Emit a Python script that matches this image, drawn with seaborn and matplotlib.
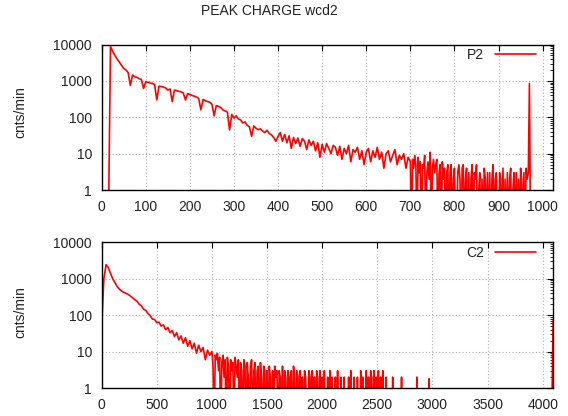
import numpy as np
import pandas as pd
import matplotlib
matplotlib.use("Agg")
import matplotlib.pyplot as plt
import seaborn as sns
from matplotlib.ticker import FixedLocator, FixedFormatter, LogLocator, NullFormatter

sns.set_style("white")
plt.rcParams["font.family"] = ["Liberation Sans", "DejaVu Sans"]

title = "PEAK CHARGE wcd2"
ylabel = "cnts/min"

# ---- P2 histogram ----
p2_label = "P2"
# bins of 5 from 0 to 695
p2_head_start, p2_head_step = 0, 5
p2_head = [
    0, 0, 0, 0, 8800, 6500, 5000, 4000, 3300, 2700,
    2200, 2000, 1700, 750, 1450, 1300, 1250, 1150, 1100, 620,
    950, 920, 880, 850, 800, 300, 720, 700, 680, 640,
    560, 600, 270, 560, 540, 520, 500, 470, 300, 450,
    420, 400, 380, 360, 330, 160, 310, 290, 270, 260,
    230, 110, 210, 200, 185, 160, 150, 140, 45, 120,
    95, 110, 90, 85, 70, 75, 60, 55, 30, 58,
    50, 46, 48, 42, 38, 44, 36, 33, 28, 22,
    30, 38, 22, 34, 20, 31, 14, 28, 19, 27,
    16, 26, 22, 13, 24, 17, 22, 12, 20, 8,
    18, 11, 19, 14, 10, 17, 15, 9, 16, 7,
    14, 10, 17, 6, 13, 11, 15, 7, 12, 5,
    11, 14, 6, 12, 8, 15, 7, 11, 4, 10,
    12, 6, 9, 13, 5, 9, 7, 10, 4, 8,
]
# bins of 2.5 from 700 to 967.5
p2_tail_start, p2_tail_step = 700, 2.5
p2_tail = [
    6, 0, 7, 4, 9, 5, 0, 8, 3, 6, 0, 5,
    4, 9, 0, 3, 6, 2, 11, 0, 4, 7, 3, 5,
    7, 0, 3, 5, 0, 6, 2, 4, 0, 3, 5, 0,
    3, 5, 0, 2, 4, 0, 0, 3, 5, 2, 0, 4,
    5, 0, 2, 4, 0, 3, 0, 2, 5, 0, 3, 2,
    5, 0, 1, 3, 0, 2, 0, 4, 2, 0, 3, 0,
    3, 0, 2, 5, 0, 2, 3, 0, 0, 3, 2, 0,
    4, 0, 2, 0, 3, 0, 2, 4, 0, 1, 3, 0,
    3, 0, 2, 0, 4, 2, 0, 3, 0, 4, 2, 3,
]
p2_peak_x = [970, 972.5]
p2_peak = [850, 0]

# ---- C2 histogram ----
c2_label = "C2"
# bins of 20 from 0 to 980
c2_head_start, c2_head_step = 0, 20
c2_head = [
    50, 1000, 2400, 2000, 1400, 1000, 780, 610, 520, 460,
    420, 395, 370, 335, 300, 265, 240, 200, 180, 145,
    135, 110, 98, 78, 76, 62, 64, 50, 54, 40,
    46, 33, 38, 26, 33, 21, 27, 17, 24, 14,
    20, 12, 17, 9, 15, 10, 13, 6, 11, 8,
]
# bins of 10 from 1000 to 2990
c2_tail_start, c2_tail_step = 1000, 10
c2_tail = [
    10, 4, 0, 8, 6, 9, 3, 7, 0, 5,
    8, 2, 6, 0, 7, 4, 0, 6, 3, 5,
    0, 7, 4, 2, 6, 0, 5, 3, 0, 6,
    4, 0, 5, 2, 0, 4, 6, 0, 3, 5,
    0, 3, 4, 0, 5, 2, 0, 4, 3, 0,
    3, 0, 4, 2, 0, 3, 0, 4, 2, 3,
    0, 3, 2, 0, 4, 0, 3, 2, 0, 3,
    2, 0, 3, 0, 4, 2, 0, 3, 0, 2,
    3, 0, 2, 0, 3, 2, 0, 0, 3, 2,
    0, 3, 0, 2, 0, 3, 2, 0, 3, 0,
    2, 0, 3, 0, 0, 2, 0, 3, 0, 2,
    0, 0, 2, 0, 3, 0, 0, 2, 0, 0,
    2, 0, 0, 0, 2, 0, 3, 0, 0, 2,
    0, 0, 2, 0, 0, 3, 0, 2, 0, 0,
    3, 0, 2, 0, 3, 2, 0, 3, 0, 2,
    0, 3, 0, 2, 0, 3, 0, 0, 2, 0,
    0, 0, 0, 0, 2, 0, 0, 0, 0, 0,
    0, 0, 2, 0, 0, 0, 0, 0, 0, 0,
    0, 0, 0, 0, 0, 0, 2, 0, 0, 0,
    0, 0, 0, 0, 0, 0, 0, 1.8, 0, 0,
]
c2_peak_x = [4080, 4095]
c2_peak = [0, 70]

p2_xticks = [0, 100, 200, 300, 400, 500, 600, 700, 800, 900, 1000]
c2_xticks = [0, 500, 1000, 1500, 2000, 2500, 3000, 3500, 4000]
yticks = [1, 10, 100, 1000, 10000]
ytick_labels = ["1", "10", "100", "1000", "10000"]


def series(h0, hs, head, t0, ts, tail, px, pk):
    x = np.concatenate([h0 + hs * np.arange(len(head)),
                        t0 + ts * np.arange(len(tail)), px])
    y = np.concatenate([np.array(head, float), np.array(tail, float),
                        np.array(pk, float)])
    return pd.DataFrame({"x": x, "y": np.where(y > 0, y, 0.05)})


p2_df = series(p2_head_start, p2_head_step, p2_head,
               p2_tail_start, p2_tail_step, p2_tail, p2_peak_x, p2_peak)
c2_df = series(c2_head_start, c2_head_step, c2_head,
               c2_tail_start, c2_tail_step, c2_tail, c2_peak_x, c2_peak)

fig = plt.figure(figsize=(5.68, 4.16), dpi=100)
ax1 = fig.add_axes([0.179, 0.543, 0.795, 0.350])
ax2 = fig.add_axes([0.179, 0.067, 0.795, 0.351])

RED = "#ff0000"
TXT = "#222222"

for ax, df, lab, xmax, xt in [
    (ax1, p2_df, p2_label, 1024, p2_xticks),
    (ax2, c2_df, c2_label, 4096, c2_xticks),
]:
    sns.lineplot(data=df, x="x", y="y", ax=ax, color=RED, lw=1.2,
                 estimator=None, sort=False, label=lab)
    ax.set_yscale("log")
    ax.set_ylim(1, 10000)
    ax.set_xlim(0, xmax)
    ax.xaxis.set_major_locator(FixedLocator(xt))
    ax.set_xticklabels([str(t) for t in xt])
    ax.yaxis.set_major_locator(FixedLocator(yticks))
    ax.yaxis.set_major_formatter(FixedFormatter(ytick_labels))
    ax.yaxis.set_minor_locator(LogLocator(base=10, subs=np.arange(2, 10)))
    ax.yaxis.set_minor_formatter(NullFormatter())
    ax.set_xlabel("")
    ax.set_ylabel("")
    ax.grid(True, which="major", linestyle=(0, (1, 2)), color="#aaaaaa", lw=0.8)
    ax.tick_params(axis="both", which="major", direction="in", length=4,
                   width=0.8, top=True, right=True, labelsize=10,
                   labelcolor=TXT, color="black", pad=7)
    ax.tick_params(axis="y", which="minor", direction="in", length=2,
                   width=0.6, right=True, color="black")
    for s in ax.spines.values():
        s.set_color("black")
        s.set_linewidth(1.0)
    leg = ax.legend(loc="upper right", bbox_to_anchor=(0.969, 1.0),
                    frameon=False, markerfirst=False, handlelength=2.9,
                    borderaxespad=0.0, borderpad=0.25, fontsize=10)
    for t in leg.get_texts():
        t.set_color(TXT)

fig.text(0.475, 1 - 11 / 416, title, ha="center", va="center", fontsize=10, color=TXT)
fig.text(20 / 568, 1 - 112 / 416, ylabel, ha="center", va="center", rotation=90,
         fontsize=10, color=TXT)
fig.text(20 / 568, 1 - 312 / 416, ylabel, ha="center", va="center", rotation=90,
         fontsize=10, color=TXT)

fig.savefig("out.png", dpi=100)
